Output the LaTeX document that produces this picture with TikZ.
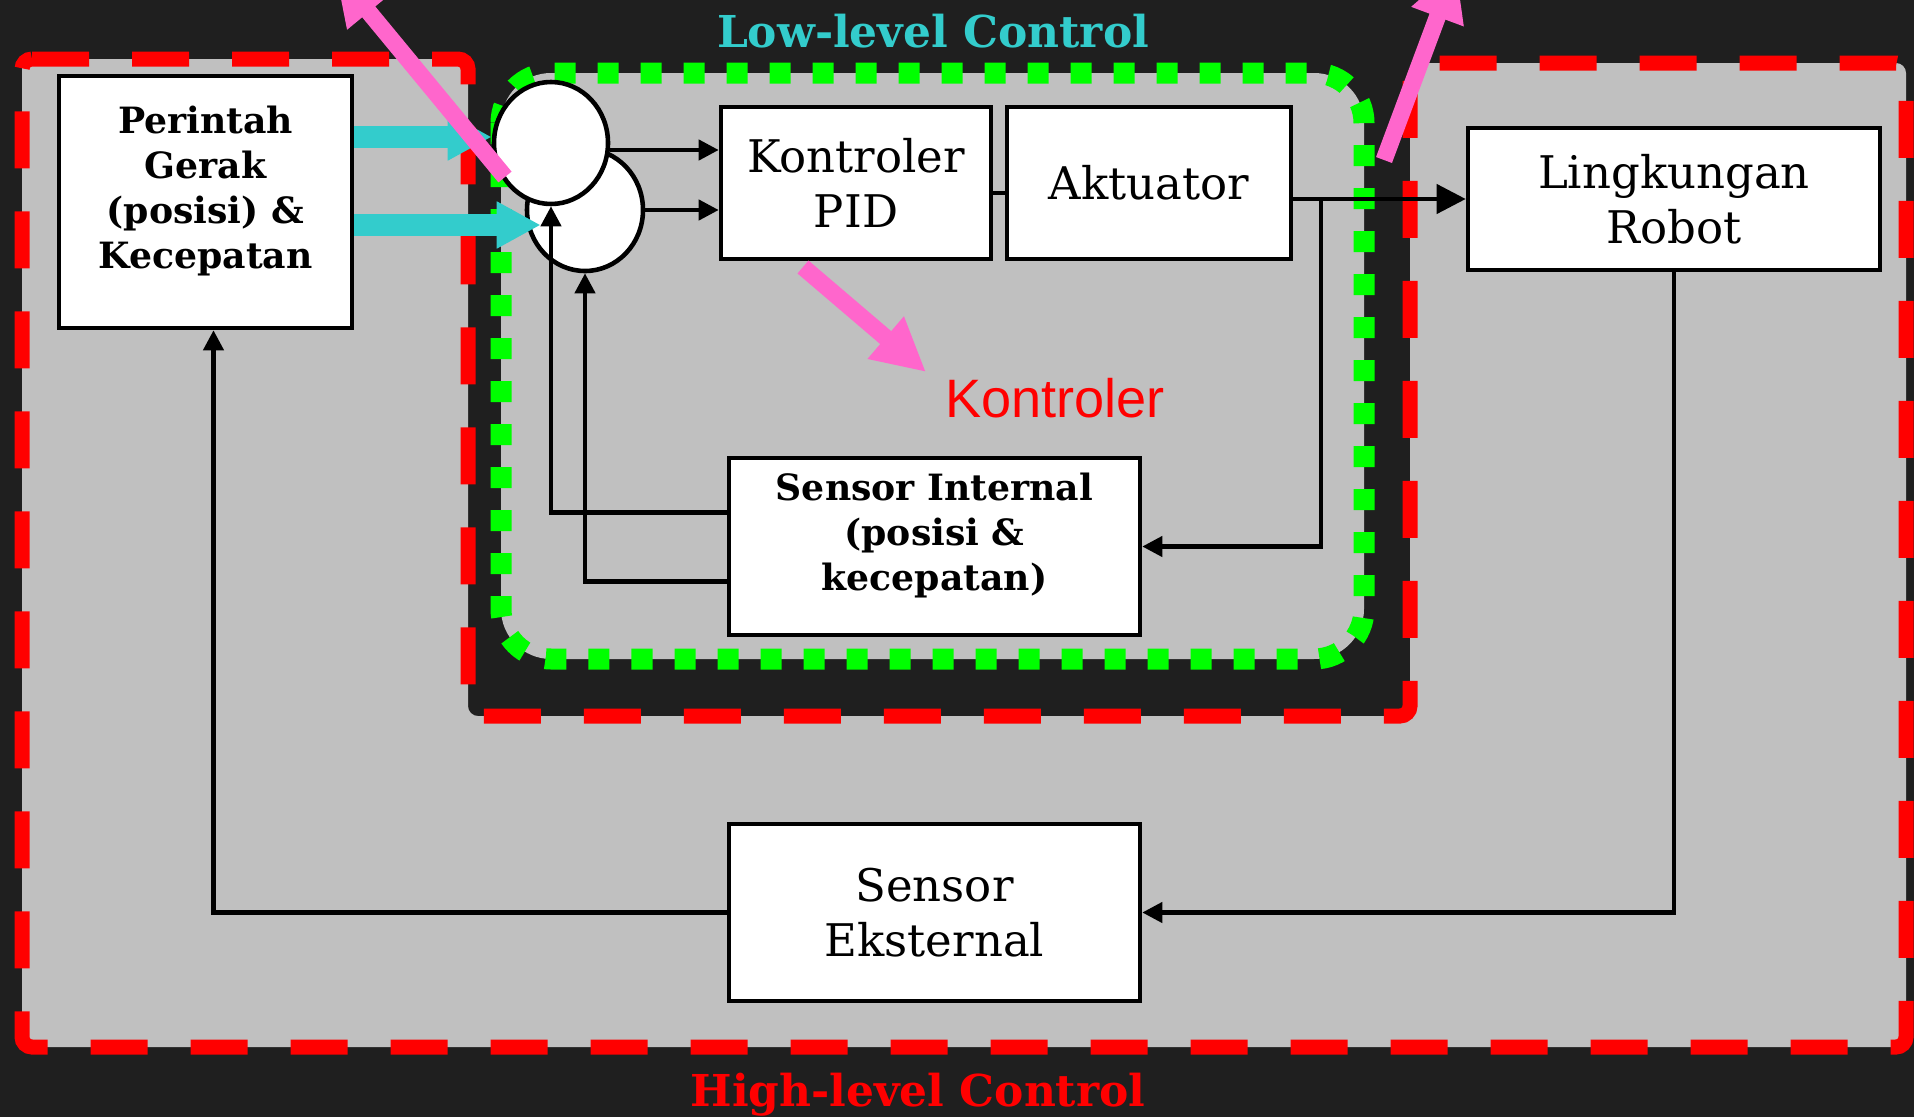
\documentclass[tikz,border=0pt]{standalone}
\usepackage{fontspec}
\setmainfont{DejaVu Serif}
\newfontfamily\kontrolerfont{Liberation Sans}
\usetikzlibrary{arrows.meta,shapes.geometric}
\definecolor{bgdark}{HTML}{1F1F1F}
\definecolor{panelgray}{HTML}{C0C0C0}
\definecolor{loopgreen}{HTML}{00FF00}
\definecolor{hlred}{HTML}{FF0000}
\definecolor{cmdcyan}{HTML}{33CCCC}
\definecolor{notepink}{HTML}{FF66CC}

\begin{document}
\begin{tikzpicture}[
    box/.style={draw, fill=white, line width=1.3pt, align=center, inner sep=1pt,
                font=\fontsize{12.8pt}{15.6pt}\selectfont},
    boldbox/.style={box, font=\fontsize{10.3pt}{12.8pt}\selectfont\bfseries},
    sum/.style={draw, fill=white, ellipse, line width=1.3pt, inner sep=0pt,
                minimum width=1.14cm, minimum height=1.22cm},
    arr/.style={-{Triangle[length=0.2cm,width=0.2cm]}, line width=1.2pt},
    bigarr/.style={-{Triangle[length=0.29cm,width=0.29cm]}, line width=1.2pt},
    cyanarr/.style={-{Triangle[length=0.44cm,width=0.44cm]}, line width=0.22cm, draw=cmdcyan},
    pinkarr/.style={-{Triangle[length=0.53cm,width=0.52cm]}, line width=0.17cm, draw=notepink},
    title/.style={font=\fontsize{12.5pt}{15pt}\selectfont\bfseries, anchor=base}
]
    \useasboundingbox (0,0) rectangle (19.14,-11.17);
    \clip (0,0) rectangle (19.14,-11.17);
    \fill[bgdark] (0,0) rectangle (19.14,-11.17);

    % high-level area, cut round the low-level loop
    \draw[hlred, fill=panelgray, line width=0.15cm, dash pattern=on 0.57cm off 0.43cm, rounded corners=0.1cm]
        (0.22,-0.59) -- (4.68,-0.59) -- (4.68,-7.16) -- (14.10,-7.16) -- (14.10,-0.63)
        -- (19.06,-0.63) -- (19.06,-10.47) -- (0.22,-10.47) -- cycle;

    % low-level loop
    \draw[loopgreen, fill=panelgray, line width=0.21cm, dash pattern=on 0.21cm off 0.22cm, rounded corners=0.5cm]
        (5.01,-0.73) rectangle (13.64,-6.59);

    % blocks
    \node[boldbox, minimum width=2.93cm, minimum height=2.52cm] (cmd) at (2.055,-2.02)
        {Perintah\\Gerak\\(posisi) \&\\Kecepatan\\[-0.15cm]};
    \node[sum, minimum width=1.16cm] (c2) at (5.85,-2.10) {};
    \node[sum] (c1) at (5.51,-1.43) {};
    \node[box, minimum width=2.70cm, minimum height=1.52cm] (pid) at (8.56,-1.83) {Kontroler\\PID};
    \node[box, minimum width=2.84cm, minimum height=1.52cm] (akt) at (11.49,-1.83) {Aktuator};
    \node[box, minimum width=4.12cm, minimum height=1.42cm] (lk) at (16.74,-1.99) {Lingkungan\\Robot};
    \node[boldbox, minimum width=4.11cm, minimum height=1.77cm] (sint) at (9.345,-5.465)
        {Sensor Internal\\(posisi \&\\kecepatan)\\[-0.15cm]};
    \node[box, minimum width=4.11cm, minimum height=1.77cm] (sext) at (9.345,-9.125) {Sensor\\Eksternal};

    % signal lines
    \coordinate (c1out) at ([yshift=-0.07cm]c1.east);
    \draw[arr] (c1out) -- (c1out -| pid.west);
    \draw[arr] (c2.east) -- (c2.east -| pid.west);
    \draw[line width=1.2pt] ([yshift=-0.1cm]pid.east) -- ([yshift=-0.1cm]akt.west);
    \draw[bigarr] (akt.east |- lk.west) -- (lk.west);
    \path (akt.east |- lk.west) -- (lk.west) coordinate[pos=0.16] (tap);
    \draw[arr] (tap) |- (sint.east);
    \draw[arr] ([yshift=0.34cm]sint.west) -| (c1.south);
    \draw[arr] ([yshift=-0.35cm]sint.west) -| (c2.south);
    \draw[arr] (lk.south) |- (sext.east);
    \draw[arr] (sext.west) -| ([xshift=0.08cm]cmd.south);

    % command arrows into the sums
    \coordinate (in1) at ([yshift=0.06cm]c1.west);
    \coordinate (in2) at ([xshift=0.16cm,yshift=-0.15cm]c2.west);
    \draw[cyanarr] (cmd.east |- in1) -- (in1);
    \draw[cyanarr] (cmd.east |- in2) -- (in2);

    % pointer arrows
    \coordinate (p1a) at (5.05,-1.77);  \coordinate (p1b) at (3.35,0.29);
    \coordinate (p2a) at (13.84,-1.60); \coordinate (p2b) at (14.56,0.33);
    \coordinate (p3a) at (8.03,-2.67);  \coordinate (p3b) at (9.26,-3.72);
    \draw[pinkarr] (p1a) -- (p1b);
    \draw[pinkarr] (p2a) -- (p2b);
    \draw[pinkarr] (p3a) -- (p3b);

    % labels
    \node[title, text=cmdcyan] (lowlbl) at (9.33,-0.47) {Low-level Control};
    \node[title, text=hlred] (highlbl) at (9.18,-11.06) {High-level Control};
    \node[font=\kontrolerfont\fontsize{15.4pt}{18pt}\selectfont, text=hlred, anchor=base] (ctrllbl)
        at (10.55,-4.17) {Kontroler};
\end{tikzpicture}
\end{document}
